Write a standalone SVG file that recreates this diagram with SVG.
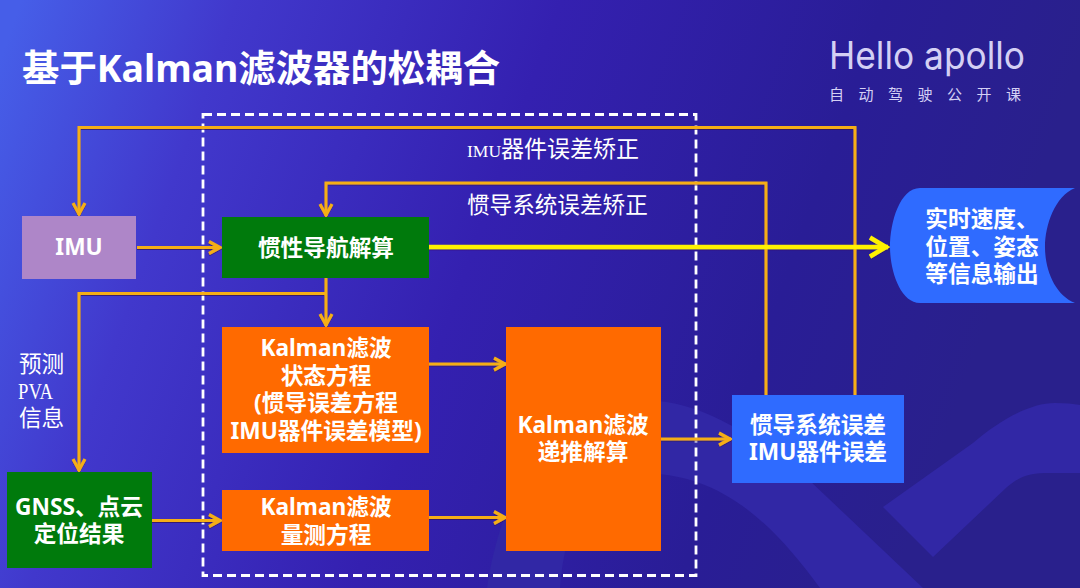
<svg xmlns="http://www.w3.org/2000/svg" width="1080" height="588" viewBox="0 0 1080 588">
<defs>
<linearGradient id="bg" gradientUnits="userSpaceOnUse" x1="0" y1="60" x2="960" y2="400">
<stop offset="0" stop-color="#465ee8"/><stop offset="0.2" stop-color="#4138cc"/><stop offset="0.5" stop-color="#3420b0"/><stop offset="0.8" stop-color="#291d96"/><stop offset="1" stop-color="#29208c"/>
</linearGradient>
<filter id="sh" x="-5%" y="-5%" width="110%" height="110%"><feDropShadow dx="0" dy="1" stdDeviation="0.6" flood-color="#301050" flood-opacity="0.7"/></filter>
<marker id="a" markerUnits="userSpaceOnUse" markerWidth="16" markerHeight="16" refX="14" refY="8" orient="auto"><path d="M2 2 L13 8 L2 14" fill="none" stroke="#f5ae14" stroke-width="3.200"/></marker>
<marker id="y" markerUnits="userSpaceOnUse" markerWidth="24" markerHeight="26" refX="21" refY="13" orient="auto"><path d="M3 3.500 L19 13 L3 22.500" fill="none" stroke="#fff200" stroke-width="4.500"/></marker>
</defs>
<style>
.t{font-family:"Noto Sans","Noto Sans CJK SC",sans-serif;font-weight:700;fill:#fff;font-size:22.7px;text-anchor:middle}
.s{font-family:"Liberation Serif","Noto Sans CJK SC",serif;fill:#fff;font-size:22.6px}
.c{fill:none;stroke:#f5ae14;stroke-width:3}
.d{fill:#3127a5}
</style>
<rect width="1080" height="588" fill="url(#bg)"/>
<g id="decor">
<path class="d" d="M487 588C495 530 530 400 640 400C700 400 740 430 790 462L923 588H820C770 520 720 473 640 473C590 473 565 520 560 588Z"/>
<path class="d" d="M883 507L973 443C1000 420 1030 403 1055 403Q1070 403 1080 405V473H1050C1030 473 1020 476 1007 487L933 557Z"/>
</g>
<g id="title"><text x="22" y="82" font-family="'Noto Sans','Noto Sans CJK SC',sans-serif" font-weight="700" font-size="37.400" fill="#fff">基于Kalman滤波器的松耦合</text></g>
<g id="logo" fill="#d4d0f4"><text x="829" y="69" font-family="Inter,'Noto Sans',sans-serif" font-weight="400" font-size="38" textLength="196" lengthAdjust="spacingAndGlyphs">Hello apollo</text>
<text x="829" y="100" font-family="'Noto Sans CJK SC',sans-serif" font-size="15" letter-spacing="14.500">自动驾驶公开课</text></g>
<rect id="boundary" x="203" y="114.500" width="493" height="461" fill="none" stroke="#fff" stroke-width="2.800" stroke-dasharray="9 5"/>
<g id="connectors" filter="url(#sh)">
<path class="c" d="M855 396V127.500H79V215" marker-end="url(#a)"/>
<path class="c" d="M766 396V183H326V216" marker-end="url(#a)"/>
<path class="c" d="M137 247.500H221" marker-end="url(#a)"/>
<path class="c" d="M326 278V326" marker-end="url(#a)"/>
<path class="c" d="M326 293.500H79V471" marker-end="url(#a)"/>
<path class="c" d="M152 520.500H221" marker-end="url(#a)"/>
<path class="c" d="M429 364H506" marker-end="url(#a)"/>
<path class="c" d="M429 517.500H506" marker-end="url(#a)"/>
<path class="c" d="M661 439H731" marker-end="url(#a)"/>
<path d="M429 247H888" fill="none" stroke="#fff200" stroke-width="4.500" marker-end="url(#y)"/>
</g>
<g id="imu"><rect x="22" y="216" width="114" height="63" fill="#ae86c8"/><text class="t" x="79" y="255">IMU</text></g>
<g id="ins"><rect x="222" y="217" width="207" height="61" fill="#007a0c"/><text class="t" x="326" y="256">惯性导航解算</text></g>
<g id="state"><rect x="222" y="327" width="207" height="126" fill="#ff6a00"/><text class="t" x="326" y="356">Kalman滤波</text><text class="t" x="326" y="384">状态方程</text><text class="t" x="326" y="411">(惯导误差方程</text><text class="t" x="326" y="439">IMU器件误差模型)</text></g>
<g id="meas"><rect x="222" y="490" width="207" height="61" fill="#ff6a00"/><text class="t" x="326" y="515">Kalman滤波</text><text class="t" x="326" y="543">量测方程</text></g>
<g id="recur"><rect x="506" y="327" width="155" height="224" fill="#ff6a00"/><text class="t" x="583" y="433">Kalman滤波</text><text class="t" x="583" y="460">递推解算</text></g>
<g id="err"><rect x="732" y="395" width="172" height="88" fill="#2f6bff"/><text class="t" x="818" y="433">惯导系统误差</text><text class="t" x="818" y="460">IMU器件误差</text></g>
<g id="gnss"><rect x="7" y="472" width="145" height="96" fill="#007a0c"/><text class="t" x="79" y="515">GNSS、点云</text><text class="t" x="79" y="542">定位结果</text></g>
<g id="output"><path d="M920 188H1075C1055 196 1045 225 1045 247C1045 270 1055 295 1075 303H920C900 303 890 270 890 247C890 222 900 188 920 188Z" fill="#2f6bff"/><text class="t" x="982" y="227">实时速度、</text><text class="t" x="982" y="255">位置、姿态</text><text class="t" x="982" y="282">等信息输出</text></g>
<g id="labels">
<text class="s" x="467" y="157" style="font-size:23px"><tspan style="font-size:17.500px">IMU</tspan>器件误差矫正</text>
<text class="s" x="467" y="213">惯导系统误差矫正</text>
<text class="s" x="19" y="372">预测</text>
<text class="s" x="18" y="399" textLength="35" lengthAdjust="spacingAndGlyphs">PVA</text>
<text class="s" x="19" y="426">信息</text>
</g>
</svg>
